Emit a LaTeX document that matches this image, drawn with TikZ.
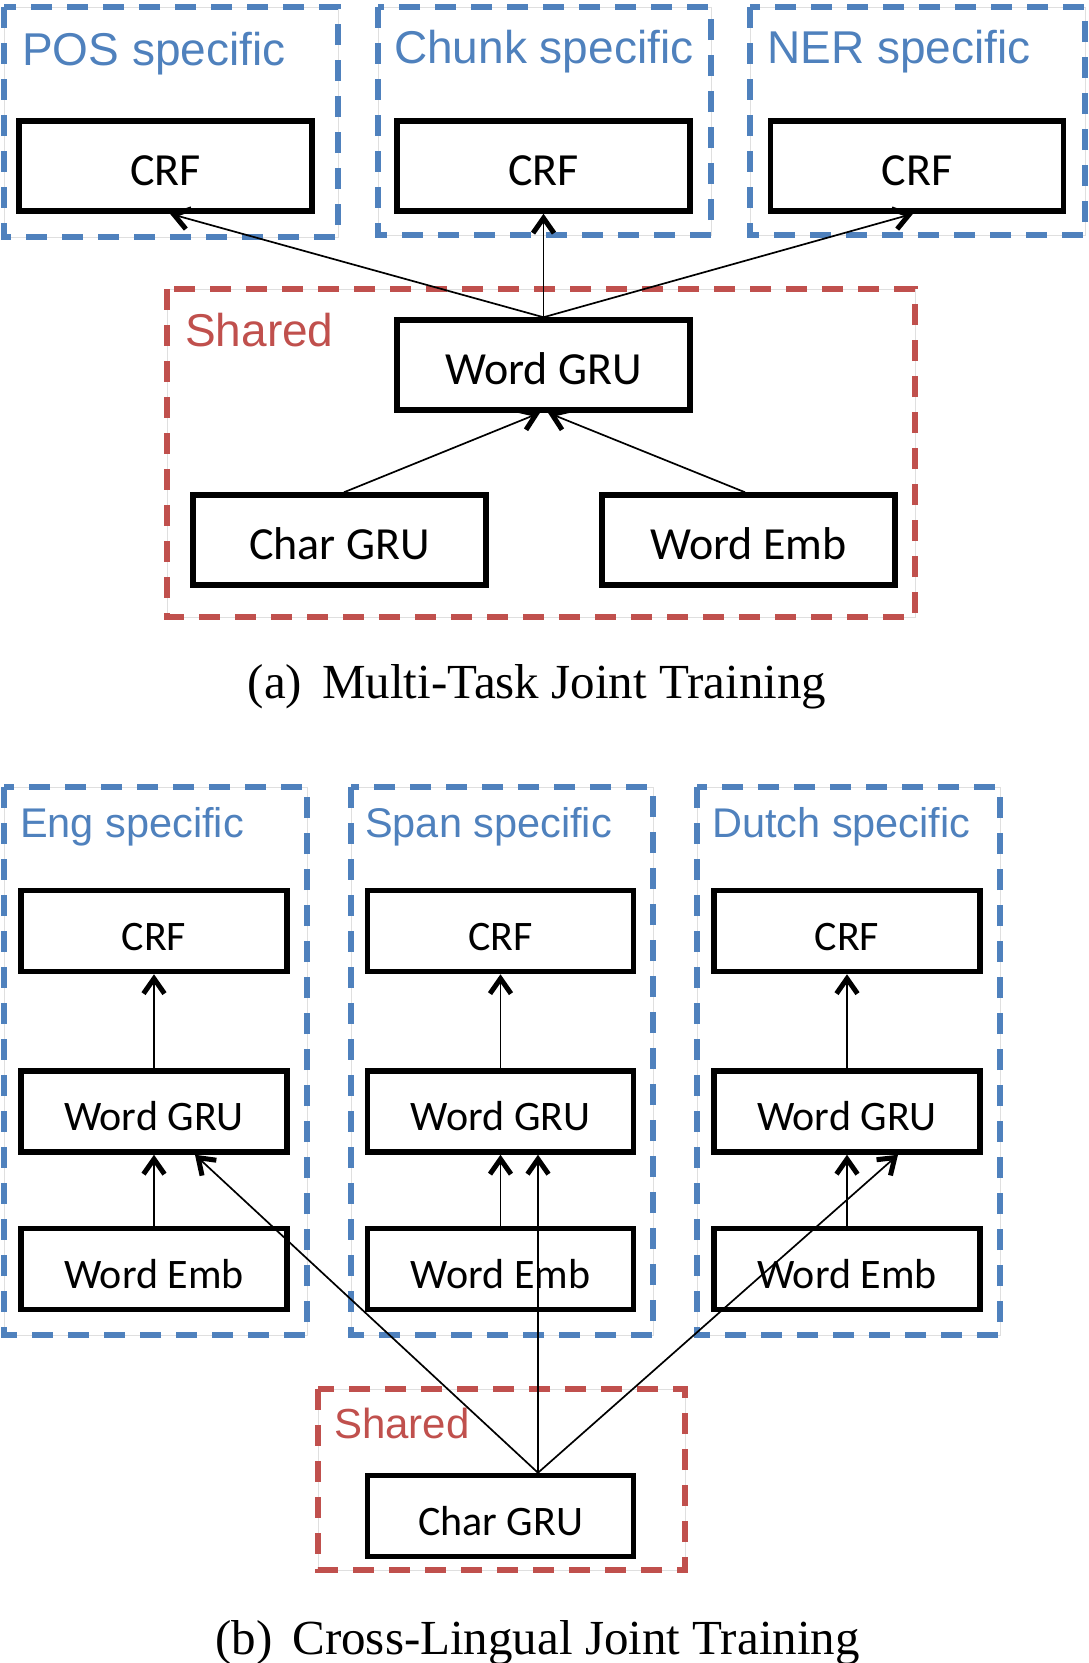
\documentclass[tikz,border=0pt]{standalone}
\usepackage{fontspec}
\usepackage{graphicx}
\setmainfont{Liberation Serif}
\newfontfamily\boxfont{Carlito}
\newfontfamily\titlefont{Liberation Sans}
\usetikzlibrary{arrows.meta}
\definecolor{tblue}{HTML}{4F81BD}
\definecolor{tred}{HTML}{C0504D}
\begin{document}
\begin{tikzpicture}[x=1pt,y=-1pt,
  blk/.style={draw=black, line width=5.5pt, inner sep=0pt, minimum width=293pt, minimum height=90pt,
    font=\boxfont\fontsize{46}{52}\selectfont, text height=39pt, text depth=0pt},
  blks/.style={draw=black, line width=5.5pt, inner sep=0pt, minimum width=266pt, minimum height=81pt,
    font=\boxfont\fontsize{42}{48}\selectfont, text height=38pt, text depth=0pt},
  conn/.style={line width=1.7pt, -{Straight Barb[length=15pt,width=21pt,line width=5pt]}},
  grpblue/.style={draw=tblue, line width=5.5pt, dash pattern=on 21pt off 15pt},
  grpred/.style={draw=tred, line width=5.5pt, dash pattern=on 21pt off 15pt},
  faint/.style={draw=gray!25, line width=0.8pt},
  ttlA/.style={anchor=base west, inner sep=0pt, text=tblue, font=\titlefont\fontsize{46}{52}\selectfont},
  ttlB/.style={anchor=base west, inner sep=0pt, text=tblue, font=\titlefont\fontsize{41.5}{47}\selectfont},
  shrA/.style={anchor=base west, inner sep=0pt, text=tred, font=\titlefont\fontsize{46}{52}\selectfont},
  shrB/.style={anchor=base west, inner sep=0pt, text=tred, font=\titlefont\fontsize{42}{48}\selectfont},
  captext/.style={anchor=base, inner sep=0pt, font=\fontsize{49}{55}\selectfont}]
\useasboundingbox (0,0) rectangle (1089,1663);

% ---------- (a) Multi-Task Joint Training ----------
\foreach \a/\b/\c/\d in {4/7/338/237, 378/7/711/235, 750/7/1085/235, 167/289/915/617}
  \draw[faint] (\a,\b) rectangle (\c,\d);
\draw[grpblue] (4,7) rectangle (338,237);
\draw[grpblue] (378,7) rectangle (711,235);
\draw[grpblue] (750,7) rectangle (1085,235);
\draw[grpred] (167,289) rectangle (915,617);

\node[ttlA] (tpos) at (22,65) {POS specific};
\node[ttlA] (tchunk) at (394,63) {Chunk specific};
\node[ttlA] (tner) at (767,63) {NER specific};
\node[shrA] (tshA) at (185,346) {Shared};

\node[blk] (poscrf) at (165.5,166) {CRF};
\node[blk] (chcrf) at (543.5,166) {CRF};
\node[blk] (nercrf) at (917,166) {CRF};
\node[blk] (wgA) at (543.5,365) {Word GRU};
\node[blk] (cgA) at (339.5,540) {Char GRU};
\node[blk] (weA) at (748.5,540) {Word Emb};

\draw[conn] (wgA.north) -- ([xshift=4.5pt]poscrf.south);
\draw[conn] (wgA.north) -- (chcrf.south);
\draw[conn] (wgA.north) -- ([xshift=-4pt]nercrf.south);
\draw[conn] ([xshift=4.5pt]cgA.north) -- ([xshift=-3.5pt]wgA.south);
\draw[conn] ([xshift=-3.5pt]weA.north) -- ([xshift=4.5pt]wgA.south);

\node[captext] (capa) at (537,698) {(a)\hspace{20pt}Multi-Task Joint Training};

% ---------- (b) Cross-Lingual Joint Training ----------
\foreach \a/\b/\c/\d in {4/787/307/1335, 351/787/653/1335, 697/787/1000/1335, 318/1389/685/1570}
  \draw[faint] (\a,\b) rectangle (\c,\d);
\draw[grpblue] (4,787) rectangle (307,1335);
\draw[grpblue] (351,787) rectangle (653,1335);
\draw[grpblue] (697,787) rectangle (1000,1335);
\draw[grpred] (318,1389) rectangle (685,1570);

\node[ttlB] (teng) at (20,837) {Eng specific};
\node[ttlB] (tspan) at (365,837) {Span specific};
\node[ttlB] (tdutch) at (712,837) {Dutch specific};
\node[shrB] (tshB) at (334,1438) {Shared};

\node[blks] (ecrf) at (154,931) {CRF};
\node[blks] (scrf) at (500.5,931) {CRF};
\node[blks] (dcrf) at (847,931) {CRF};
\node[blks] (ewg) at (154,1111.5) {Word GRU};
\node[blks] (swg) at (500.5,1111.5) {Word GRU};
\node[blks] (dwg) at (847,1111.5) {Word GRU};
\node[blks] (ewe) at (154,1269) {Word Emb};
\node[blks] (swe) at (500.5,1269) {Word Emb};
\node[blks] (dwe) at (847,1269) {Word Emb};
\node[blks] (cgB) at (500.5,1516) {Char GRU};

\draw[conn] (ewg.north) -- (ecrf.south);
\draw[conn] (swg.north) -- (scrf.south);
\draw[conn] (dwg.north) -- (dcrf.south);
\draw[conn] (ewe.north) -- (ewg.south);
\draw[conn] (swe.north) -- (swg.south);
\draw[conn] (dwe.north) -- (dwg.south);

\draw[conn] ([xshift=37.5pt]cgB.north) -- ([xshift=41pt]ewg.south);
\draw[conn] ([xshift=37.5pt]cgB.north) -- ([xshift=37.5pt]swg.south);
\draw[conn] ([xshift=37.5pt]cgB.north) -- ([xshift=51pt]dwg.south);

\node[captext] (capb) at (537.5,1654) {(b)\hspace{20pt}Cross-Lingual Joint Training};
\end{tikzpicture}
\end{document}
